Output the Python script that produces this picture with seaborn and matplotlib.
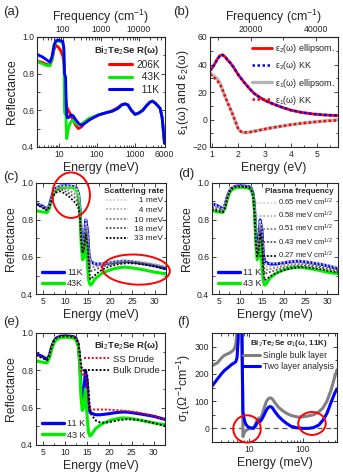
import numpy as np
import seaborn as sns
import matplotlib.pyplot as plt
from matplotlib.lines import Line2D
from matplotlib.patches import Ellipse
from matplotlib.ticker import FixedLocator, FixedFormatter, MultipleLocator, NullFormatter

# ---------------- data ----------------
# (a) broad-band reflectance, energy in meV
E_a = [2.6, 3.5, 4.5, 5.7, 6.5, 7.3, 8.2, 9.5, 11, 12.5, 13.3, 13.8, 14.3, 14.8, 15.3, 15.8, 16.5,
       17.5, 19, 21, 23.5, 27, 32, 39, 48, 60, 80, 110, 160, 250, 350, 450, 550, 650, 800, 1000,
       1250, 1600, 2000, 2500, 2900, 3400, 4000, 4600, 5200, 6000]
R_206K = [0.868, 0.862, 0.852, 0.845, 0.875, 0.93, 0.955, 0.945, 0.925, 0.895, 0.86, 0.80, 0.72,
          0.67, 0.64, 0.62, 0.61, 0.60, 0.585, 0.565, 0.545, 0.52, 0.50, 0.51, 0.535, 0.55, 0.562,
          0.575, 0.585, 0.598, 0.615, 0.632, 0.635, 0.628, 0.60, 0.578, 0.585, 0.60, 0.625, 0.645,
          0.65, 0.64, 0.625, 0.61, 0.56, 0.42]
R_43K = [0.865, 0.855, 0.845, 0.843, 0.88, 0.945, 0.975, 0.978, 0.975, 0.965, 0.92, 0.62, 0.58,
         0.70, 0.52, 0.445, 0.47, 0.50, 0.525, 0.54, 0.545, 0.53, 0.52, 0.525, 0.54, 0.555, 0.565,
         0.575, 0.585, 0.595, 0.61, 0.63, 0.635, 0.63, 0.60, 0.578, 0.585, 0.60, 0.625, 0.645,
         0.65, 0.64, 0.625, 0.61, 0.56, 0.42]
R_11K = [0.905, 0.893, 0.878, 0.862, 0.895, 0.955, 0.98, 0.982, 0.98, 0.975, 0.94, 0.80, 0.79,
         0.78, 0.64, 0.57, 0.56, 0.56, 0.568, 0.575, 0.57, 0.55, 0.53, 0.518, 0.53, 0.545, 0.56,
         0.575, 0.585, 0.595, 0.61, 0.63, 0.635, 0.63, 0.60, 0.578, 0.585, 0.60, 0.625, 0.645,
         0.65, 0.64, 0.625, 0.61, 0.56, 0.42]

# (b) dielectric function, energy in eV
E_b = [0.92, 1.0, 1.1, 1.2, 1.3, 1.4, 1.5, 1.6, 1.7, 1.8, 1.9, 2.0, 2.1, 2.2, 2.4, 2.6, 2.8, 3.0,
       3.3, 3.6, 4.0, 4.4, 4.8, 5.2, 5.6, 5.8]
eps2_ell = [36, 37.5, 40.5, 44, 46.5, 47, 45.5, 43, 41, 38.5, 35.5, 32.5, 30, 27.5, 23, 19, 16.3,
            14, 11.5, 9.3, 6.8, 5.2, 4.1, 3.4, 3.0, 2.9]
eps2_kk = [35.5, 37.3, 40.3, 43.8, 46.4, 47, 45.6, 43.1, 41, 38.5, 35.5, 32.5, 30, 27.5, 23, 19,
           16.3, 14, 11.5, 9.3, 6.8, 5.2, 4.1, 3.4, 3.0, 2.9]
eps1_ell = [34, 32.5, 31, 29.5, 26.5, 21.5, 16.5, 12, 7.5, 3, -2, -7, -8.8, -9.5, -9.3, -8.6,
            -7.8, -7, -5.9, -5, -3.8, -2.8, -2, -1.2, -0.6, -0.3]
eps1_kk = [33, 31.5, 30, 28, 25.5, 21.5, 16.5, 12, 7.5, 3, -2, -7, -8.8, -9.5, -9.3, -8.6, -7.8,
           -7, -5.9, -5, -3.8, -2.8, -2, -1.3, -0.8, -0.6]

# (c)-(e) far-infrared reflectance, energy in meV
E_far = [3.5, 4, 5, 6, 6.5, 7, 7.5, 8, 9, 10, 11, 12, 12.5, 13, 13.3, 13.6, 13.9, 14.2, 14.6, 15.0,
         15.3, 15.6, 16, 16.5, 17, 18, 19, 20, 21, 22, 23, 24, 25, 26, 27, 28, 29, 30, 31, 32, 32.5]
far_11K = [0.888, 0.884, 0.874, 0.858, 0.88, 0.925, 0.955, 0.972, 0.983, 0.984, 0.983, 0.98, 0.972,
           0.94, 0.86, 0.72, 0.62, 0.66, 0.80, 0.74, 0.62, 0.575, 0.57, 0.565, 0.562, 0.562, 0.565,
           0.568, 0.572, 0.575, 0.577, 0.576, 0.573, 0.57, 0.566, 0.562, 0.558, 0.553, 0.547, 0.54,
           0.537]
far_43K = [0.852, 0.848, 0.843, 0.841, 0.865, 0.91, 0.945, 0.962, 0.975, 0.977, 0.976, 0.972, 0.962,
           0.93, 0.84, 0.66, 0.585, 0.6, 0.70, 0.55, 0.47, 0.448, 0.455, 0.475, 0.49, 0.508, 0.52,
           0.53, 0.537, 0.542, 0.545, 0.544, 0.541, 0.537, 0.533, 0.528, 0.523, 0.518, 0.514, 0.511,
           0.51]

E_fit = [3.5, 4.5, 5.5, 6, 6.5, 7, 7.5, 8, 9, 10, 11, 12, 12.5, 13, 13.3, 13.6, 13.9, 14.2, 14.6,
         15.0, 15.3, 15.6, 16, 17, 18, 19, 20, 22, 24, 26, 28, 30, 32.5]
scat_labels = ["  1 meV", "  4 meV", "10 meV", "18 meV", "33 meV"]
scat_1 = [0.892, 0.880, 0.866, 0.860, 0.882, 0.928, 0.958, 0.975, 0.985, 0.986, 0.985, 0.982, 0.975,
          0.94, 0.86, 0.72, 0.63, 0.67, 0.80, 0.74, 0.63, 0.575, 0.568, 0.566, 0.567, 0.570, 0.574,
          0.580, 0.582, 0.578, 0.572, 0.564, 0.552]
scat_4 = [0.890, 0.878, 0.864, 0.858, 0.880, 0.925, 0.955, 0.972, 0.980, 0.978, 0.974, 0.966, 0.955,
          0.925, 0.85, 0.715, 0.63, 0.665, 0.785, 0.725, 0.615, 0.565, 0.560, 0.559, 0.561, 0.565,
          0.570, 0.577, 0.579, 0.575, 0.568, 0.560, 0.548]
scat_10 = [0.888, 0.876, 0.862, 0.856, 0.877, 0.92, 0.95, 0.966, 0.974, 0.968, 0.958, 0.944, 0.933,
           0.905, 0.84, 0.71, 0.63, 0.66, 0.77, 0.71, 0.60, 0.548, 0.545, 0.550, 0.556, 0.561, 0.566,
           0.573, 0.576, 0.572, 0.565, 0.557, 0.545]
scat_18 = [0.886, 0.874, 0.860, 0.854, 0.874, 0.915, 0.944, 0.958, 0.966, 0.956, 0.942, 0.924, 0.91,
           0.885, 0.83, 0.70, 0.625, 0.65, 0.75, 0.69, 0.58, 0.525, 0.525, 0.535, 0.545, 0.553,
           0.560, 0.568, 0.572, 0.568, 0.561, 0.552, 0.540]
scat_33 = [0.884, 0.872, 0.858, 0.852, 0.870, 0.908, 0.936, 0.948, 0.955, 0.942, 0.924, 0.9, 0.885,
           0.862, 0.815, 0.69, 0.62, 0.64, 0.72, 0.66, 0.555, 0.48, 0.488, 0.51, 0.527, 0.54, 0.55,
           0.562, 0.567, 0.564, 0.557, 0.548, 0.535]

plasma_labels = ["0.65 meV cm$^{1/2}$", "0.58 meV cm$^{1/2}$", "0.51 meV cm$^{1/2}$",
                 "0.43 meV cm$^{1/2}$", "0.27 meV cm$^{1/2}$"]
wp_065 = [0.892, 0.880, 0.866, 0.860, 0.882, 0.928, 0.958, 0.975, 0.984, 0.985, 0.984, 0.98, 0.972,
          0.94, 0.86, 0.72, 0.63, 0.67, 0.80, 0.74, 0.63, 0.572, 0.566, 0.565, 0.566, 0.569, 0.573,
          0.578, 0.580, 0.576, 0.569, 0.560, 0.546]
wp_058 = [0.883, 0.872, 0.860, 0.855, 0.877, 0.925, 0.956, 0.974, 0.983, 0.984, 0.983, 0.979, 0.97,
          0.937, 0.855, 0.71, 0.625, 0.66, 0.785, 0.725, 0.61, 0.553, 0.549, 0.550, 0.553, 0.557,
          0.562, 0.568, 0.571, 0.567, 0.560, 0.551, 0.538]
wp_051 = [0.874, 0.865, 0.855, 0.851, 0.873, 0.922, 0.954, 0.972, 0.982, 0.983, 0.982, 0.978, 0.968,
          0.933, 0.85, 0.70, 0.62, 0.65, 0.77, 0.71, 0.59, 0.533, 0.531, 0.536, 0.541, 0.546, 0.552,
          0.560, 0.563, 0.559, 0.552, 0.543, 0.531]
wp_043 = [0.866, 0.858, 0.850, 0.847, 0.869, 0.919, 0.952, 0.970, 0.981, 0.982, 0.981, 0.977, 0.966,
          0.93, 0.845, 0.69, 0.615, 0.64, 0.755, 0.69, 0.565, 0.51, 0.512, 0.52, 0.528, 0.535,
          0.542, 0.551, 0.555, 0.552, 0.545, 0.536, 0.524]
wp_027 = [0.856, 0.850, 0.844, 0.842, 0.864, 0.915, 0.95, 0.968, 0.98, 0.981, 0.98, 0.975, 0.963,
          0.925, 0.835, 0.68, 0.605, 0.625, 0.73, 0.66, 0.53, 0.475, 0.48, 0.497, 0.51, 0.52, 0.529,
          0.540, 0.545, 0.542, 0.536, 0.527, 0.516]

ss_drude = [0.885, 0.874, 0.862, 0.857, 0.879, 0.926, 0.957, 0.974, 0.984, 0.985, 0.984, 0.98, 0.972,
            0.945, 0.88, 0.80, 0.78, 0.775, 0.78, 0.73, 0.63, 0.592, 0.59, 0.59, 0.59, 0.59, 0.589,
            0.586, 0.582, 0.576, 0.567, 0.556, 0.538]
bulk_drude = [0.88, 0.87, 0.86, 0.855, 0.877, 0.924, 0.955, 0.972, 0.982, 0.983, 0.982, 0.978, 0.97,
              0.945, 0.9, 0.84, 0.80, 0.80, 0.80, 0.78, 0.70, 0.60, 0.56, 0.53, 0.52, 0.52, 0.523,
              0.532, 0.538, 0.536, 0.528, 0.518, 0.502]

# (f) optical conductivity, energy in meV
E_f = [2.0, 2.5, 3.0, 3.4, 4.1, 4.7, 5.2, 5.6, 5.9, 6.2, 6.5, 7.0, 7.3, 7.6, 8.1, 8.6, 9.5, 10.5,
       12, 13, 14, 15, 16, 17, 19, 21, 23, 25, 27, 30, 35, 42, 50, 60, 78, 100, 130, 160, 200, 240,
       285, 340, 400, 440]
sig_single = [230, 240, 258, 268, 275, 282, 290, 310, 360, 600, 700, 700, 400, -30, -15, -8, -3, 0,
              2, 15, 30, 38, 35, 45, 75, 100, 110, 112, 108, 95, 78, 65, 55, 48, 42, 42, 46, 50, 60,
              75, 100, 140, 190, 215]
sig_two = [155, 180, 200, 212, 225, 235, 240, 245, 260, 330, 600, 700, 300, 60, 30, 15, 5, 2, 0, 8,
           20, 28, 25, 32, 50, 68, 78, 80, 76, 62, 45, 30, 18, 8, 2, 0, 0, 3, 12, 30, 55, 95, 130,
           145]

# ---------------- style ----------------
sns.set_theme(style="ticks")
plt.rcParams["font.family"] = ["Liberation Sans", "DejaVu Sans"]
plt.rcParams["mathtext.fontset"] = "custom"
plt.rcParams["mathtext.rm"] = "Liberation Sans"
plt.rcParams["mathtext.it"] = "Liberation Sans:italic"
plt.rcParams["mathtext.bf"] = "Liberation Sans:bold"
plt.rcParams["axes.linewidth"] = 0.8

RED, GREEN, BLUE = "#ff0000", "#00ee00", "#0000ff"
grays = ["#d2d2d2", "#b0b0b0", "#808080", "#505050", "#000000"]
DOT = (0, (1, 1))
LAB = 8.8
TICK = 6.2

fig = plt.figure(figsize=(3.43, 4.75), dpi=100)
W, H = 343, 475


def box(l, t, r, b):
    return [l / W, 1 - b / H, (r - l) / W, (b - t) / H]


def line(ax, x, y, color, lw=2.0, ls="-"):
    sns.lineplot(x=x, y=y, ax=ax, color=color, lw=lw, linestyle=ls,
                 sort=False, estimator=None)


def ticks(ax, top=True):
    ax.tick_params(which="both", direction="in", labelsize=TICK, pad=2,
                   top=top, right=True, width=0.6)
    ax.tick_params(which="major", length=3)
    ax.tick_params(which="minor", length=1.8)


def circle(ax, cx, cy, w, h, ang=0):
    ax.add_patch(Ellipse((cx, cy), w, h, angle=ang, transform=ax.transAxes,
                         fill=False, ec=RED, lw=1.4, clip_on=False, zorder=10))


def h(color, lw=2.2, ls="-"):
    return Line2D([], [], color=color, lw=lw, linestyle=ls)


ax_a = fig.add_axes(box(37, 37, 164.5, 147))
ax_b = fig.add_axes(box(210, 37, 338, 147))
ax_c = fig.add_axes(box(36, 183, 166, 294))
ax_d = fig.add_axes(box(212, 183, 338, 294))
ax_e = fig.add_axes(box(36, 333, 165, 445))
ax_f = fig.add_axes(box(212, 333, 337, 442))

# ---------------- (a) ----------------
ax = ax_a
line(ax, E_a, R_206K, RED)
line(ax, E_a, R_43K, GREEN)
line(ax, E_a, R_11K, BLUE)
ax.set_xscale("log")
ax.set_xlim(2.6, 6000)
ax.set_ylim(0.4, 1.0)
ax.xaxis.set_major_locator(FixedLocator([10, 100, 1000, 6000]))
ax.xaxis.set_major_formatter(FixedFormatter(["10", "100", "1000", "6000"]))
ax.xaxis.set_minor_formatter(NullFormatter())
ax.yaxis.set_major_locator(MultipleLocator(0.2))
ax.yaxis.set_minor_locator(MultipleLocator(0.1))
ticks(ax, top=False)
ax.set_xlabel("Energy (meV)", fontsize=LAB, labelpad=2)
ax.set_ylabel("Reflectance", fontsize=LAB, labelpad=3)
sec = ax.secondary_xaxis("top", functions=(lambda e: np.asarray(e) * 8.0655,
                                           lambda f: np.asarray(f) / 8.0655))
sec.xaxis.set_major_locator(FixedLocator([100, 1000, 10000]))
sec.xaxis.set_major_formatter(FixedFormatter(["100", "1000", "10000"]))
sec.xaxis.set_minor_formatter(NullFormatter())
sec.tick_params(which="both", direction="in", labelsize=TICK, pad=2, width=0.6)
sec.tick_params(which="major", length=3)
sec.tick_params(which="minor", length=1.8)
sec.set_xlabel("Frequency (cm$^{-1}$)", fontsize=LAB, labelpad=3)
leg = ax.legend(handles=[h(RED), h(GREEN), h(BLUE)], labels=["206K", "  43K", "  11K"],
                title="Bi$_2$Te$_2$Se R(ω)", loc="upper right", frameon=False,
                fontsize=7.3, title_fontproperties={"weight": "bold", "size": 6.8},
                handlelength=2.3, handletextpad=0.4, labelspacing=0.25,
                borderaxespad=0.3, bbox_to_anchor=(1.02, 1.0))
leg._legend_box.align = "right"

# ---------------- (b) ----------------
ax = ax_b
line(ax, E_b, eps2_ell, RED, lw=2.0)
line(ax, E_b, eps1_ell, "#b4b4b4", lw=2.4)
line(ax, E_b, eps2_kk, BLUE, lw=1.8, ls=DOT)
line(ax, E_b, eps1_kk, RED, lw=1.8, ls=DOT)
ax.set_xlim(0.92, 5.8)
ax.set_ylim(-20, 60)
ax.xaxis.set_major_locator(MultipleLocator(1))
ax.xaxis.set_minor_locator(MultipleLocator(0.5))
ax.yaxis.set_major_locator(MultipleLocator(20))
ax.yaxis.set_minor_locator(MultipleLocator(10))
ticks(ax, top=False)
ax.set_xlabel("Energy (eV)", fontsize=LAB, labelpad=2)
ax.set_ylabel("ε$_1$(ω) and ε$_2$(ω)", fontsize=LAB, labelpad=1)
sec = ax.secondary_xaxis("top", functions=(lambda e: np.asarray(e) * 8065.5,
                                           lambda f: np.asarray(f) / 8065.5))
sec.xaxis.set_major_locator(FixedLocator([20000, 40000]))
sec.xaxis.set_minor_locator(FixedLocator([10000, 30000]))
sec.xaxis.set_major_formatter(FixedFormatter(["20000", "40000"]))
sec.tick_params(which="both", direction="in", labelsize=TICK, pad=2, width=0.6)
sec.tick_params(which="major", length=3)
sec.tick_params(which="minor", length=1.8)
sec.set_xlabel("Frequency (cm$^{-1}$)", fontsize=LAB, labelpad=3)
ax.legend(handles=[h(RED, 2.0), h(BLUE, 1.8, DOT), h("#b4b4b4", 2.4), h(RED, 1.8, DOT)],
          labels=["ε$_2$(ω) ellipsom.", "ε$_2$(ω) KK", "ε$_1$(ω) ellipsom.", "ε$_1$(ω) KK"],
          loc="upper right", frameon=False, fontsize=6.5, handlelength=2.2,
          handletextpad=0.3, labelspacing=0.45, borderaxespad=0.2,
          bbox_to_anchor=(1.02, 1.0))

# ---------------- (c) ----------------
ax = ax_c
line(ax, E_far, far_11K, BLUE, lw=2.2)
line(ax, E_far, far_43K, GREEN, lw=2.2)
for vals, col in zip([scat_1, scat_4, scat_10, scat_18, scat_33], grays):
    line(ax, E_fit, vals, col, lw=1.3, ls=DOT)

# ---------------- (d) ----------------
ax = ax_d
line(ax, E_far, far_11K, BLUE, lw=2.2)
line(ax, E_far, far_43K, GREEN, lw=2.2)
for vals, col in zip([wp_065, wp_058, wp_051, wp_043, wp_027], grays):
    line(ax, E_fit, vals, col, lw=1.3, ls=DOT)

# ---------------- (e) ----------------
ax = ax_e
line(ax, E_far, far_11K, BLUE, lw=2.2)
line(ax, E_far, far_43K, GREEN, lw=2.2)
line(ax, E_fit, ss_drude, RED, lw=1.4, ls=DOT)
line(ax, E_fit, bulk_drude, "black", lw=1.4, ls=DOT)

for ax in (ax_c, ax_d, ax_e):
    ax.set_xlim(3.5, 32.5)
    ax.set_ylim(0.4, 1.0)
    ax.xaxis.set_major_locator(MultipleLocator(5))
    ax.xaxis.set_minor_locator(MultipleLocator(2.5))
    ax.yaxis.set_major_locator(MultipleLocator(0.2))
    ax.yaxis.set_minor_locator(MultipleLocator(0.1))
    ticks(ax)
    ax.set_xlabel("Energy (meV)", fontsize=LAB, labelpad=2)
    ax.set_ylabel("Reflectance", fontsize=LAB, labelpad=3)

temp_handles = [h(BLUE, 2.4), h(GREEN, 2.4)]
lg = ax_c.legend(handles=[h(c, 1.3, DOT) for c in grays], labels=scat_labels,
                 title="Scattering rate", loc="upper right", frameon=False, fontsize=6.0,
                 title_fontproperties={"weight": "bold", "size": 6.0}, handlelength=2.6,
                 handletextpad=0.8, labelspacing=0.2, borderaxespad=0.2,
                 bbox_to_anchor=(1.02, 1.0))
lg._legend_box.align = "right"
ax_c.add_artist(lg)
ax_c.legend(handles=temp_handles, labels=["11K", "43K"], loc="lower left", frameon=False,
            fontsize=6.6, handlelength=2.4, handletextpad=0.4, labelspacing=0.3,
            borderaxespad=0.2)
circle(ax_c, 0.27, 0.89, 0.29, 0.41)
circle(ax_c, 0.77, 0.22, 0.52, 0.27, ang=-4)

lg = ax_d.legend(handles=[h(c, 1.3, DOT) for c in grays], labels=plasma_labels,
                 title="Plasma frequency", loc="upper right", frameon=False, fontsize=5.6,
                 title_fontproperties={"weight": "bold", "size": 5.8}, handlelength=2.6,
                 handletextpad=0.3, labelspacing=0.25, borderaxespad=0.2,
                 bbox_to_anchor=(1.0, 1.0))
lg._legend_box.align = "right"
ax_d.add_artist(lg)
ax_d.legend(handles=temp_handles, labels=["11 K", "43 K"], loc="lower left", frameon=False,
            fontsize=6.6, handlelength=2.4, handletextpad=0.4, labelspacing=0.3,
            borderaxespad=0.2)

lg = ax_e.legend(handles=[h(RED, 1.4, DOT), h("black", 1.4, DOT)],
                 labels=["SS Drude", "Bulk Drude"], title="Bi$_2$Te$_2$Se R(ω)",
                 loc="upper right", frameon=False, fontsize=6.8,
                 title_fontproperties={"weight": "bold", "size": 6.8}, handlelength=2.6,
                 handletextpad=0.4, labelspacing=0.3, borderaxespad=0.2)
lg._legend_box.align = "right"
ax_e.add_artist(lg)
ax_e.legend(handles=temp_handles, labels=["11 K", "43 K"], loc="lower left", frameon=False,
            fontsize=6.6, handlelength=2.4, handletextpad=0.4, labelspacing=0.3,
            borderaxespad=0.2)

# ---------------- (f) ----------------
ax = ax_f
ax.axhline(0, color="#555555", lw=0.9, ls=(0, (4, 3)))
line(ax, E_f, sig_single, "#808080", lw=2.2)
line(ax, E_f, sig_two, BLUE, lw=2.2)
ax.set_xscale("log")
ax.set_xlim(2.0, 440)
ax.set_ylim(-50, 350)
ax.xaxis.set_major_locator(FixedLocator([10, 100]))
ax.xaxis.set_major_formatter(FixedFormatter(["10", "100"]))
ax.xaxis.set_minor_formatter(NullFormatter())
ax.yaxis.set_major_locator(MultipleLocator(100))
ax.yaxis.set_minor_locator(MultipleLocator(50))
ticks(ax)
ax.set_xlabel("Energy (meV)", fontsize=LAB, labelpad=2)
ax.set_ylabel("σ$_1$(Ω$^{-1}$cm$^{-1}$)", fontsize=LAB, labelpad=1)
ax.legend(handles=[h("#808080", 2.2), h(BLUE, 2.2)],
          labels=["Single bulk layer", "Two layer analysis"],
          title="Bi$_2$Te$_2$Se σ$_1$(ω, 11K)", loc="upper right", frameon=False,
          fontsize=6.2, title_fontproperties={"weight": "bold", "size": 5.8},
          handlelength=2.0, handletextpad=0.4, labelspacing=0.25, borderaxespad=0.2,
          bbox_to_anchor=(1.02, 1.0))
circle(ax_f, 0.28, 0.12, 0.22, 0.25)
circle(ax_f, 0.80, 0.17, 0.22, 0.21)

# ---------------- panel labels ----------------
for lab, x, y in [("(a)", 3, 12), ("(b)", 173, 12), ("(c)", 3, 177),
                  ("(d)", 178, 174), ("(e)", 3, 322), ("(f)", 177, 322)]:
    fig.text(x / W, 1 - y / H, lab, fontsize=9.5, va="center", ha="left")

fig.savefig("out.png", dpi=100)
